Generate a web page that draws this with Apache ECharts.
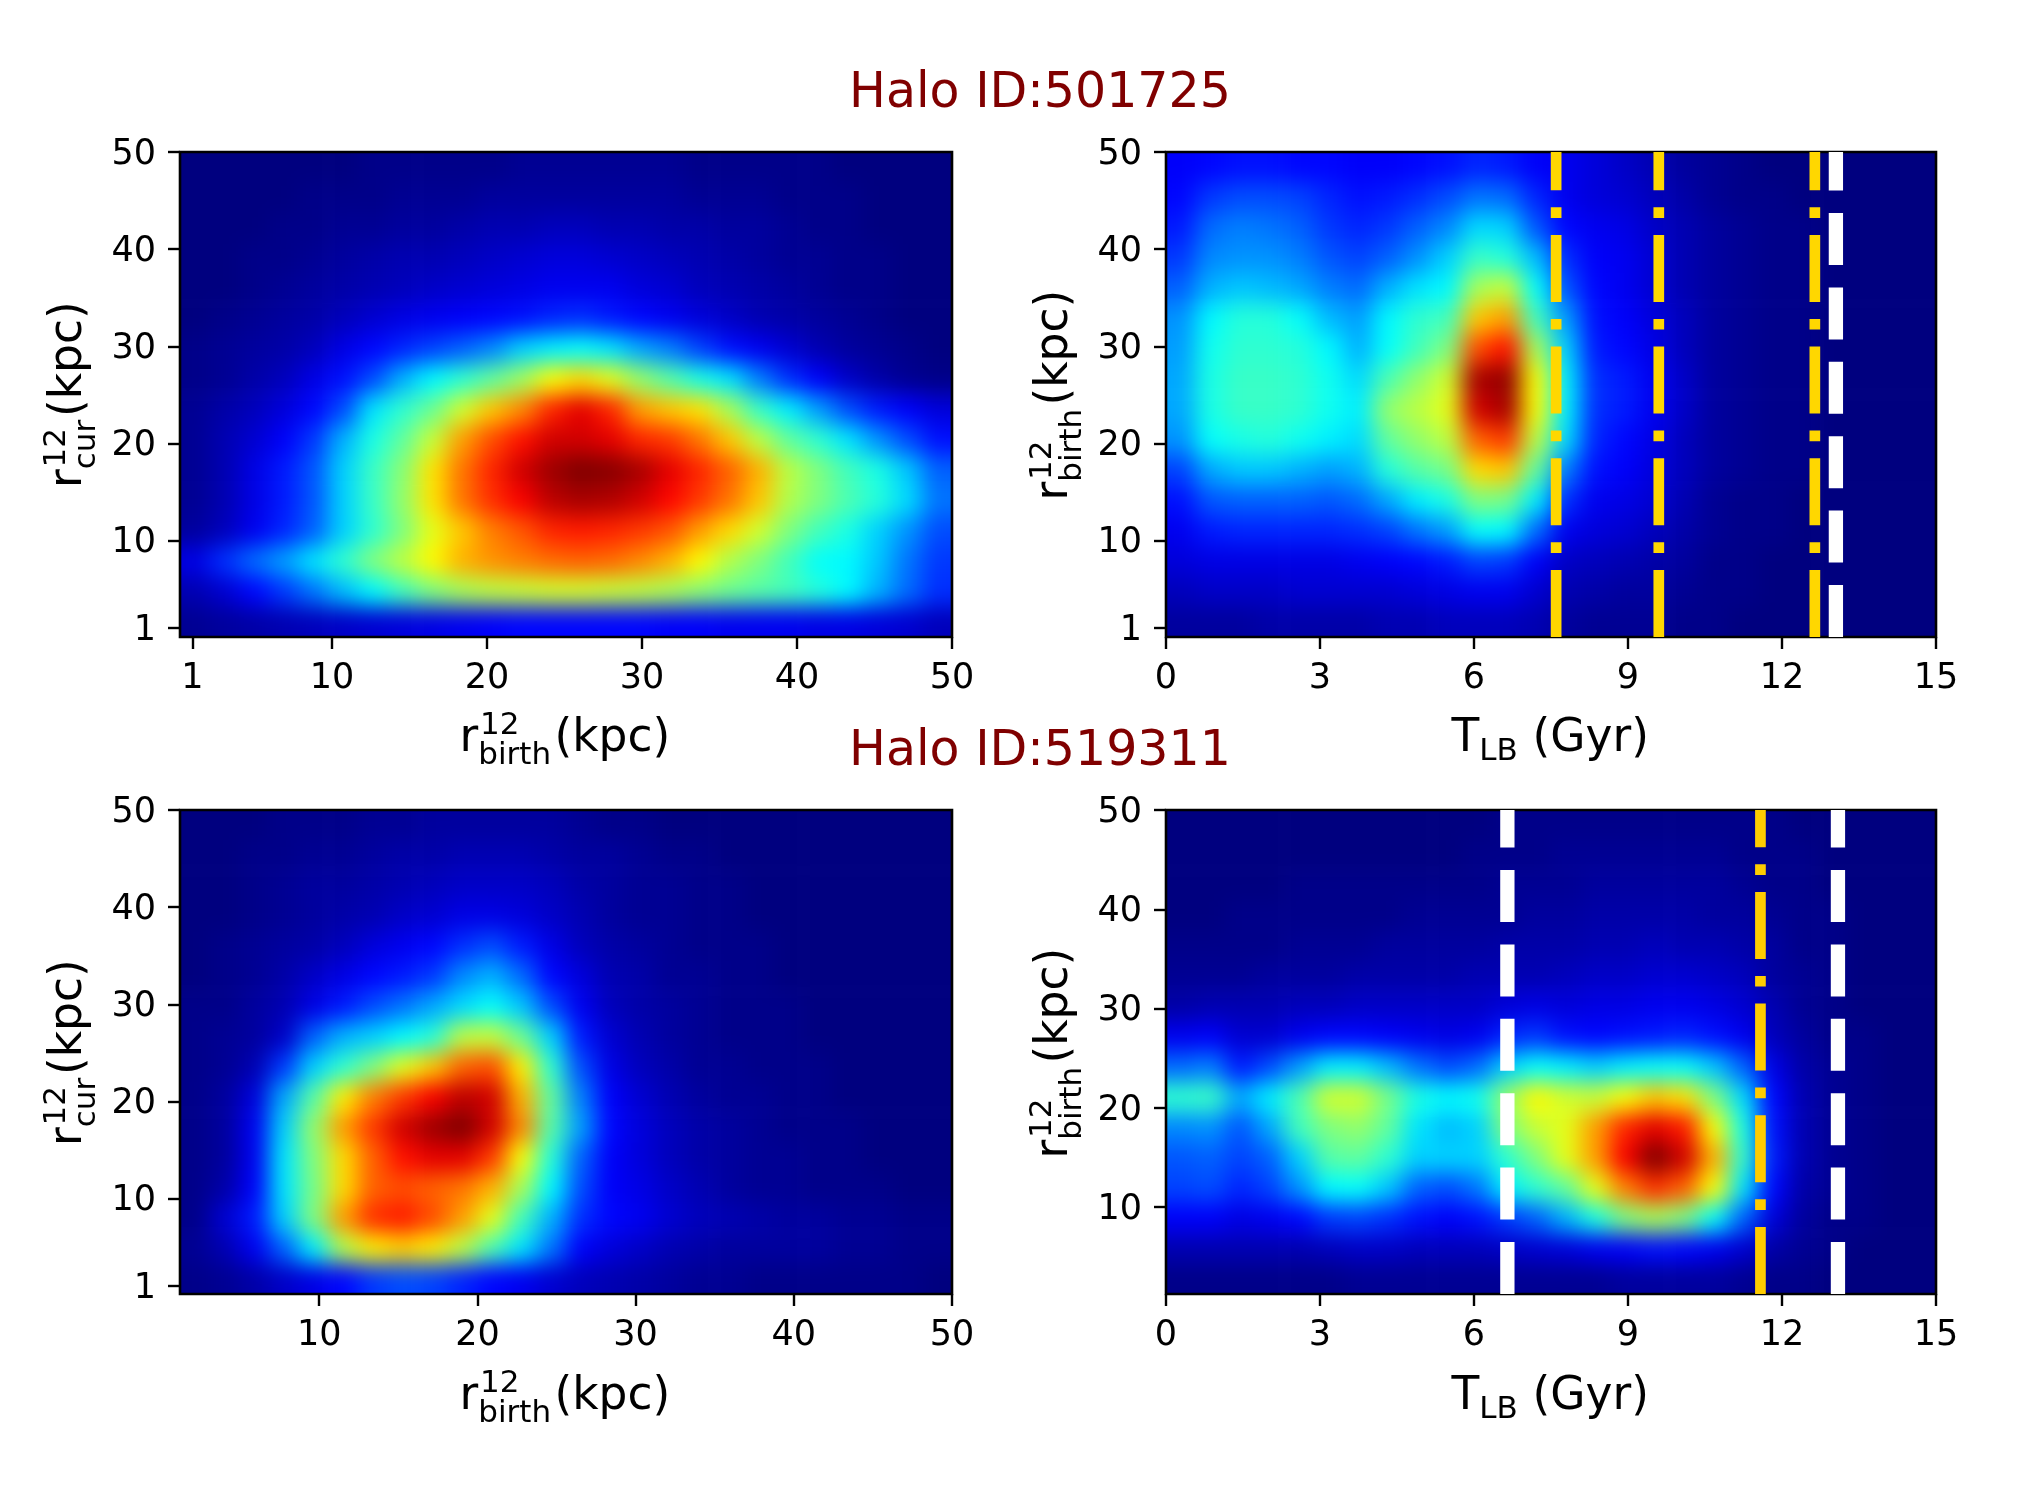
<!DOCTYPE html>
<html><head><meta charset="utf-8">
<style>html,body{margin:0;padding:0;background:#fff}#c{width:2032px;height:1494px}</style>
<script src="https://cdn.jsdelivr.net/npm/echarts@6/dist/echarts.min.js"></script>
</head><body><div id="c"></div>
<script>
// density values (0-100 on the jet scale), rows top to bottom
const heatA=[
[0,0,0,0,0,0,1,1,1,1,1,2,2,2,2,2,2,1,1,1,1,1,0,0,0,0],
[0,0,0,0,1,1,1,2,2,2,3,3,3,3,3,3,3,2,2,2,1,1,1,0,0,0],
[0,0,0,1,1,2,2,3,3,4,5,5,6,6,5,5,4,4,3,3,2,1,1,0,0,0],
[0,0,1,1,2,3,4,5,5,6,7,8,9,9,8,7,6,5,4,3,2,2,1,1,0,0],
[0,0,1,2,3,4,5,6,7,8,9,10,11,11,11,9,8,6,5,4,3,2,1,1,0,0],
[0,1,2,3,4,6,8,10,11,12,13,14,16,17,15,13,11,9,7,5,4,3,2,1,0,0],
[1,2,3,4,6,10,13,16,19,22,26,33,36,38,35,29,25,19,14,11,8,5,3,2,1,0],
[1,2,4,6,10,14,20,30,37,42,47,53,62,66,60,52,46,40,35,25,17,12,7,4,2,1],
[2,4,6,9,13,20,35,42,48,58,68,74,84,90,84,72,68,65,54,43,36,28,20,15,12,9],
[2,5,8,12,18,30,40,47,57,72,80,86,92,92,90,84,82,76,68,56,47,42,35,27,20,14],
[2,5,10,15,21,33,43,51,65,76,84,92,97,100,99,96,90,84,78,70,56,50,44,40,32,22],
[2,5,10,15,21,33,43,52,65,76,83,88,94,96,95,92,87,82,76,68,55,50,45,41,34,24],
[3,6,11,16,22,33,42,50,60,68,75,79,84,85,84,82,79,72,66,58,50,44,40,33,27,20],
[10,17,23,28,35,42,50,56,63,70,73,75,77,78,77,74,70,63,55,50,44,38,37,32,24,18],
[5,8,13,18,24,31,37,44,50,54,56,57,58,58,57,56,54,51,48,46,44,41,37,30,23,17],
[2,3,4,5,6,7,8,9,10,11,12,13,13,13,13,13,12,12,11,11,11,10,10,9,8,6]];
const heatB=[
[12,13,14,14,13,13,12,12,13,14,16,15,12,11,9,7,5,3,2,1,0,0,0,0,0,0],
[13,18,20,20,19,16,14,15,17,20,24,23,16,11,9,8,6,4,2,1,1,0,0,0,0,0],
[15,23,25,24,22,18,16,18,22,26,34,33,21,13,11,10,7,5,3,2,1,1,0,0,0,0],
[18,26,27,27,25,21,19,22,27,33,43,41,31,17,12,11,8,5,3,2,1,1,0,0,0,0],
[22,30,32,31,29,25,23,30,35,37,54,57,38,21,13,11,8,5,3,2,1,1,0,0,0,0],
[27,37,41,41,38,31,28,37,42,44,68,72,44,28,14,12,9,6,3,2,1,1,0,0,0,0],
[28,39,42,42,41,37,30,38,44,50,80,86,54,33,15,13,10,6,3,2,1,1,0,0,0,0],
[29,40,43,43,42,39,34,45,52,58,96,98,62,36,17,15,11,7,3,2,1,1,0,0,0,0],
[29,40,43,43,42,39,36,52,56,60,92,96,62,36,17,15,11,7,3,2,1,1,0,0,0,0],
[27,38,40,41,39,36,34,47,52,56,78,82,56,34,16,13,10,6,3,2,1,1,0,0,0,0],
[19,29,32,32,30,28,30,41,46,49,66,68,47,25,14,12,9,6,3,2,1,1,0,0,0,0],
[14,21,22,22,22,21,23,29,36,40,50,49,36,17,11,10,8,5,2,1,1,0,0,0,0,0],
[11,15,16,16,16,16,17,19,24,28,38,37,23,11,9,8,6,4,2,1,1,0,0,0,0,0],
[9,10,10,10,10,10,11,12,13,15,19,18,12,7,6,5,4,3,1,1,0,0,0,0,0,0],
[6,7,7,7,8,8,8,8,9,10,11,11,8,5,4,3,3,2,1,1,0,0,0,0,0,0],
[3,3,3,4,4,4,4,5,5,6,6,6,5,3,2,2,2,1,1,0,0,0,0,0,0,0]];
const heatC=[
[0,0,0,1,1,1,2,2,3,3,3,3,3,2,1,1,0,0,0,0,0,0,0,0,0,0],
[0,0,1,1,2,2,3,4,4,5,5,5,4,3,3,2,1,1,0,0,0,0,0,0,0,0],
[0,0,1,2,3,3,4,5,6,7,7,7,6,4,3,2,2,1,1,0,0,0,0,0,0,0],
[0,0,1,2,3,4,5,7,8,10,10,9,7,5,3,2,2,1,1,0,0,0,0,0,0,0],
[0,1,2,3,4,6,9,11,13,17,20,15,10,6,4,3,2,1,1,1,0,0,0,0,0,0],
[0,1,2,4,7,10,13,15,18,26,30,23,13,9,5,4,2,2,1,1,0,0,0,0,0,0],
[1,1,3,5,10,15,20,24,29,34,38,32,20,11,6,4,3,2,1,1,1,0,0,0,0,0],
[1,2,3,7,22,30,33,37,41,56,57,48,33,15,8,5,3,2,1,1,1,0,0,0,0,0],
[1,2,5,18,33,42,50,60,68,78,80,64,42,20,10,6,4,2,2,1,1,1,0,0,0,0],
[1,3,9,29,46,64,75,82,88,94,92,70,47,25,12,8,5,3,2,2,1,1,0,0,0,0],
[1,3,11,33,52,72,82,92,97,100,92,74,46,28,13,9,6,4,3,2,1,1,1,0,0,0],
[1,3,11,35,50,66,78,86,90,90,82,62,41,22,12,9,6,4,3,2,2,1,1,0,0,0],
[1,4,12,35,49,66,78,80,78,76,70,54,37,20,12,10,7,5,3,2,2,1,1,1,0,0],
[1,8,15,33,50,72,83,85,80,72,60,44,30,17,13,11,8,6,5,4,3,3,2,2,1,1],
[2,5,11,22,36,55,64,67,64,56,45,35,24,12,9,7,5,4,3,3,3,3,2,2,1,1],
[1,2,4,7,10,13,18,20,19,16,13,11,8,6,5,4,3,2,2,1,1,1,1,1,1,0]];
const heatD=[
[0,0,0,0,0,0,0,0,0,0,0,1,1,1,1,1,1,1,1,1,1,0,0,0,0,0],
[0,0,0,0,0,0,0,0,0,0,1,1,1,2,2,2,2,2,2,1,1,1,0,0,0,0],
[0,0,0,0,1,1,1,1,1,1,1,2,2,2,3,3,3,3,3,2,1,1,0,0,0,0],
[0,0,1,1,1,1,1,1,2,2,2,2,3,3,4,4,4,4,3,3,2,1,1,0,0,0],
[1,1,1,1,2,2,2,3,3,3,3,4,4,4,5,5,6,5,5,4,3,1,1,0,0,0],
[2,2,2,3,3,3,4,4,4,4,5,5,5,6,7,7,8,8,7,6,3,2,1,0,0,0],
[4,5,5,5,6,6,7,7,7,7,7,9,10,9,10,10,11,11,10,8,5,2,1,0,0,0],
[11,12,8,8,11,13,13,12,11,10,11,16,18,14,13,14,15,16,14,11,6,3,1,1,0,0],
[23,25,15,20,28,36,36,31,24,20,23,33,38,36,33,36,38,38,32,22,10,4,2,1,0,0],
[42,43,29,36,45,58,58,49,40,37,39,52,63,58,57,62,68,65,50,34,13,5,2,1,0,0],
[26,27,21,29,44,50,52,47,35,31,33,50,57,60,72,84,90,85,62,40,14,5,2,1,0,0],
[21,22,19,22,33,46,47,42,33,33,33,42,50,60,72,88,100,92,70,42,15,5,2,1,0,0],
[19,20,16,19,27,37,38,32,22,20,24,36,42,47,60,75,83,78,62,35,13,4,2,1,0,0],
[12,12,10,11,13,18,19,17,14,12,14,18,22,30,40,50,54,50,38,22,9,3,1,1,0,0],
[5,5,5,5,5,6,7,7,6,6,6,7,8,9,11,12,14,13,11,8,4,2,1,0,0,0],
[1,1,1,1,1,1,2,2,2,2,2,2,2,2,2,3,3,3,3,2,1,1,0,0,0,0]];

const ticksAx=[1,10,20,30,40,50], ticksAy=[1,10,20,30,40,50];
const ticksBx=[0,3,6,9,12,15],   ticksBy=[1,10,20,30,40,50];
const ticksCx=[10,20,30,40,50],  ticksCy=[1,10,20,30,40,50];
const ticksDx=[0,3,6,9,12,15],   ticksDy=[10,20,30,40,50];
const goldB=[7.6,9.6,12.64],  whiteB=[13.05];
const goldD=[11.58],          whiteD=[6.65,13.09];
const titles=['Halo ID:501725','Halo ID:519311'];
const jet=['#00007f','#0000ff','#007fff','#00ffff','#7fff7f','#ffff00','#ff7f00','#ff0000','#7f0000'];

const F='"DejaVu Sans"';
const PAD=2;
const panels=[
 {L:180,T:152,R:952,B:637,heat:heatA,xr:[0.2,50],yr:[0.07,50],xt:ticksAx,yt:ticksAy},
 {L:1166,T:152,R:1936,B:637,heat:heatB,xr:[0,15],yr:[0.07,50],xt:ticksBx,yt:ticksBy,gold:goldB,white:whiteB,gc:'#ffd700'},
 {L:180,T:810,R:952,B:1294,heat:heatC,xr:[1.2,50],yr:[0.2,50],xt:ticksCx,yt:ticksCy},
 {L:1166,T:810,R:1936,B:1294,heat:heatD,xr:[0,15],yr:[1.26,50],xt:ticksDx,yt:ticksDy,gold:goldD,white:whiteD,gc:'#ffcc00'}
];
const grid=[],xAxis=[],yAxis=[],series=[];
panels.forEach((p,k)=>{
  grid.push({zlevel:2,show:true,left:p.L,top:p.T,width:p.R-p.L,height:p.B-p.T,borderColor:'#000',borderWidth:2.6,backgroundColor:'transparent'});
  const ax={zlevel:2,type:'value',axisLine:{show:false},splitLine:{show:false}};
  xAxis.push({...ax,gridIndex:k,min:p.xr[0],max:p.xr[1],
    axisTick:{show:true,length:12,lineStyle:{color:'#000',width:2.4},customValues:p.xt},
    axisLabel:{show:true,margin:24,fontSize:35,fontFamily:F,color:'#000',customValues:p.xt,formatter:v=>String(v)}});
  yAxis.push({...ax,gridIndex:k,min:p.yr[0],max:p.yr[1],
    axisTick:{show:true,length:12,lineStyle:{color:'#000',width:2.4},customValues:p.yt},
    axisLabel:{show:true,margin:24,verticalAlign:'top',lineHeight:5,fontSize:35,fontFamily:F,color:'#000',customValues:p.yt,formatter:v=>String(v)}});
});
// hidden band axes for the density cells: one slightly larger grid under each panel
panels.forEach((p,k)=>{
  const ny=p.heat.length,nx=p.heat[0].length;
  const cw=(p.R-p.L)/nx,ch=(p.B-p.T)/ny;
  const gi=grid.length;
  grid.push({show:false,left:p.L-PAD*cw,top:p.T-PAD*ch,width:(nx+2*PAD)*cw,height:(ny+2*PAD)*ch});
  const cats=n=>Array.from({length:n},(_,i)=>i);
  xAxis.push({type:'category',gridIndex:gi,show:false,data:cats(nx+2*PAD)});
  yAxis.push({type:'category',gridIndex:gi,show:false,inverse:true,data:cats(ny+2*PAD)});
  const data=[];
  for(let j=0;j<ny+2*PAD;j++)for(let i=0;i<nx+2*PAD;i++){
    const r=p.heat[Math.min(ny-1,Math.max(0,j-PAD))];
    data.push([i,j,r[Math.min(nx-1,Math.max(0,i-PAD))]]);
  }
  series.push({type:'heatmap',zlevel:0,xAxisIndex:gi,yAxisIndex:gi,data,progressive:0,itemStyle:{borderWidth:0},emphasis:{disabled:true}});
});
const heatIdx=series.map((_,i)=>i);
panels.forEach((p,k)=>{
  (p.gold||[]).forEach(x=>series.push({type:'line',zlevel:2,xAxisIndex:k,yAxisIndex:k,symbol:'none',silent:true,
    data:[[x,p.yr[0]],[x,p.yr[1]]],lineStyle:{color:p.gc,width:10.7,cap:'butt',type:[67,17,10.7,17]}}));
  (p.white||[]).forEach(x=>series.push({type:'line',zlevel:2,xAxisIndex:k,yAxisIndex:k,symbol:'none',silent:true,
    data:[[x,p.yr[0]],[x,p.yr[1]]],lineStyle:{color:'#fff',width:14.3,cap:'butt',type:[52,22.4]}}));
});

// text pieces placed from their baseline
const MID=0.25;
function txt(s,dx,dy,fs,fill,align){return {type:'text',zlevel:2,silent:true,x:dx,y:dy-MID*fs,
  style:{text:s,fontSize:fs,fontFamily:F,fill:fill||'#000',textAlign:align||'left',textVerticalAlign:'middle'}};}
function label(x,y,vert,parts){return {type:'group',zlevel:2,silent:true,x,y,rotation:vert?Math.PI/2:0,children:parts};}
const M=45.5,S=31;
const birth=()=>[txt('r',0,0,M),txt('12',20.6,-16.5,S),txt('birth',18.7,13.7,S),txt('(kpc)',95,0,M)];
const cur=()=>[txt('r',0,0,M),txt('12',20.6,-16.5,S),txt('cur',18.7,13.7,S),txt('(kpc)',71,0,M)];
const tlb=()=>[txt('T',0,0,M),txt('LB',27.8,9,S),txt('(Gyr)',81,0,M)];
const white=(x,y,w,h)=>({type:'rect',zlevel:1,silent:true,shape:{x,y,width:w,height:h},style:{fill:'#fff'}});
const graphic=[
 white(0,0,2032,152),white(0,637,2032,173),white(0,1294,2032,200),
 white(0,0,180,1494),white(952,0,214,1494),white(1936,0,96,1494),
 txt(titles[0],1040,107,49,'#800000','center'),txt(titles[1],1040,765,49,'#800000','center'),
 label(459.5,750.5,false,birth()),label(459.5,1408.5,false,birth()),
 label(1451.5,750.5,false,tlb()),label(1451.5,1408.5,false,tlb()),
 label(81,488,true,cur()),label(81,1146,true,cur()),
 label(1067,500.5,true,birth()),label(1067,1158.5,true,birth())
];

const chart=echarts.init(document.getElementById('c'),null,{renderer:'canvas',width:2032,height:1494});
chart.setOption({animation:false,backgroundColor:'transparent',grid,xAxis,yAxis,series,graphic,
  visualMap:{show:false,type:'continuous',min:0,max:100,dimension:2,seriesIndex:heatIdx,inRange:{color:jet}}});
function soften(){const cv=chart.getDom().querySelectorAll('canvas');if(cv.length)cv[0].style.filter='blur(11px)';}
soften();chart.on('finished',soften);
</script></body></html>
